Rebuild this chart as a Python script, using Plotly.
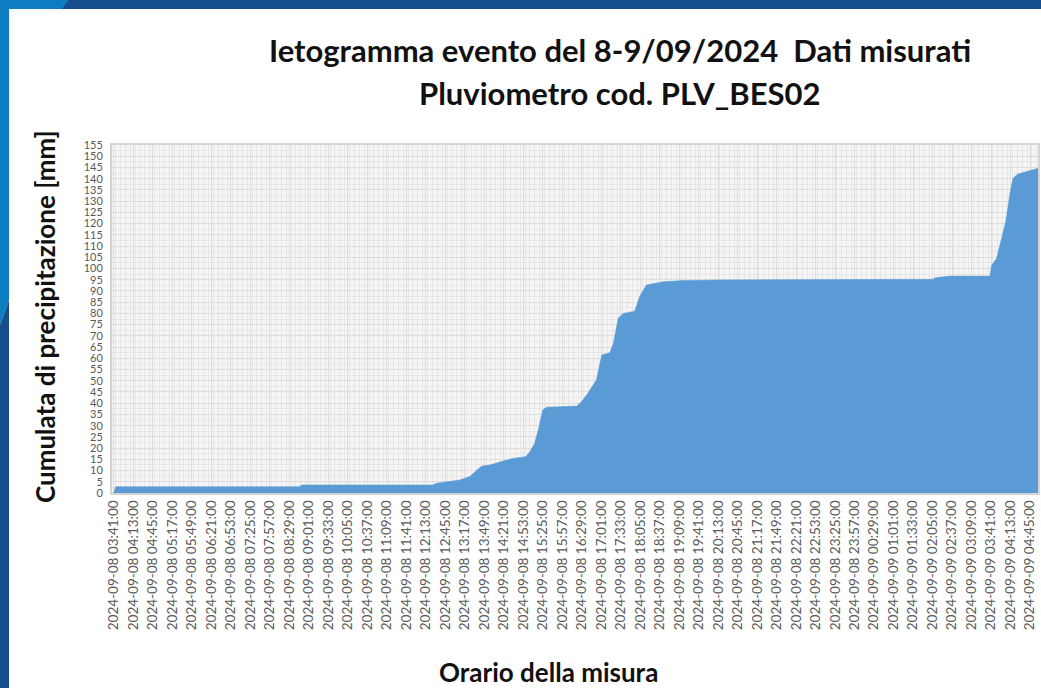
import plotly.graph_objects as go
from datetime import datetime, timedelta

# ---- data ----
TIMES = [
    "2024-09-08 03:41", "2024-09-08 03:44", "2024-09-08 08:45", "2024-09-08 08:50",
    "2024-09-08 12:25", "2024-09-08 12:30", "2024-09-08 13:09", "2024-09-08 13:25",
    "2024-09-08 13:45", "2024-09-08 13:58", "2024-09-08 14:20", "2024-09-08 14:36",
    "2024-09-08 14:57", "2024-09-08 15:04", "2024-09-08 15:12", "2024-09-08 15:19",
    "2024-09-08 15:25", "2024-09-08 15:31", "2024-09-08 16:21", "2024-09-08 16:29",
    "2024-09-08 16:39", "2024-09-08 16:53", "2024-09-08 17:02", "2024-09-08 17:15",
    "2024-09-08 17:21", "2024-09-08 17:29", "2024-09-08 17:37", "2024-09-08 17:56",
    "2024-09-08 18:04", "2024-09-08 18:15", "2024-09-08 18:43", "2024-09-08 19:15",
    "2024-09-08 20:16", "2024-09-09 01:11", "2024-09-09 02:05", "2024-09-09 02:10",
    "2024-09-09 02:33", "2024-09-09 03:39", "2024-09-09 03:42", "2024-09-09 03:50",
    "2024-09-09 03:55", "2024-09-09 04:01", "2024-09-09 04:05", "2024-09-09 04:12",
    "2024-09-09 04:17", "2024-09-09 04:25", "2024-09-09 04:39", "2024-09-09 04:58",
]
CUMULATA = [
    0.0, 2.8, 2.8, 3.6,
    3.6, 4.3, 5.8, 7.3,
    12.0, 12.5, 14.2, 15.4,
    16.2, 18.4, 22.3, 29.5,
    37.0, 38.2, 38.7, 40.7,
    44.4, 50.3, 61.5, 62.5,
    66.7, 77.8, 80.0, 81.0,
    87.4, 92.6, 94.1, 94.6,
    94.9, 95.2, 95.2, 95.9,
    96.6, 96.6, 101.5, 104.5,
    109.7, 116.4, 120.8, 133.5,
    140.2, 142.1, 143.1, 144.6,
]

TICK_START = datetime(2024, 9, 8, 3, 41)
TICK_VALS = [TICK_START + timedelta(minutes=32 * i) for i in range(48)]
TICK_TEXT = [t.strftime("%Y-%m-%d %H:%M:%S") for t in TICK_VALS]
Y_TICKS = list(range(0, 160, 5))

TITLE_LINES = ["Ietogramma evento del 8-9/09/2024  Dati misurati",
               "Pluviometro cod. PLV_BES02"]
X_TITLE = "Orario della misura"
Y_TITLE = "Cumulata di precipitazione [mm]"

FONT = "Lato, Open Sans, sans-serif"

W, H = 1041, 688
L, R, T, B = 112, 1038, 145, 493


def px(x):
    return (x - L) / (R - L)


def py(y):
    return (B - y) / (B - T)


fig = go.Figure()
fig.add_trace(go.Scatter(
    x=TIMES, y=CUMULATA, mode="lines", fill="tozeroy",
    line=dict(color="#5B9BD5", width=0.5), fillcolor="#5B9BD5",
    hoverinfo="x+y", showlegend=False,
))

shapes = []


def poly(points, color):
    d = "M " + " L ".join(f"{px(a):.5f},{py(b):.5f}" for a, b in points) + " Z"
    return dict(type="path", xref="paper", yref="paper", path=d,
                fillcolor=color, line=dict(width=0), layer="above")


shapes.append(poly([(0, -2), (W + 2, -2), (W + 2, 9), (0, 9)], "#174E8C"))
shapes.append(poly([(0, -2), (70, -2), (62, 9), (0, 9)], "#0E7DC2"))
shapes.append(poly([(0, 0), (9, 0), (9, 300), (0, 325)], "#0E7DC2"))
shapes.append(poly([(0, 325), (9, 300), (9, H + 2), (0, H + 2)], "#174E8C"))

annotations = [
    dict(text=TITLE_LINES[0], x=px(620), y=py(50), xref="paper", yref="paper",
         xanchor="center", yanchor="middle", showarrow=False,
         font=dict(family=FONT, size=31, color="#111111", weight="bold")),
    dict(text=TITLE_LINES[1], x=px(620), y=py(93), xref="paper", yref="paper",
         xanchor="center", yanchor="middle", showarrow=False,
         font=dict(family=FONT, size=31, color="#111111", weight="bold")),
    dict(text=X_TITLE, x=px(548), y=py(672), xref="paper", yref="paper",
         xanchor="center", yanchor="middle", showarrow=False,
         font=dict(family=FONT, size=26, color="#111111", weight="bold")),
    dict(text=Y_TITLE, x=px(45), y=py(317), xref="paper", yref="paper",
         xanchor="center", yanchor="middle", showarrow=False, textangle=-90,
         font=dict(family=FONT, size=26, color="#111111", weight="bold")),
]

fig.update_layout(
    width=W, height=H,
    margin=dict(l=L, r=W - R, t=T, b=H - B, pad=0),
    paper_bgcolor="white",
    plot_bgcolor="#f5f5f5",
    shapes=shapes,
    annotations=annotations,
    font=dict(family=FONT, color="#595959"),
    xaxis=dict(
        type="date", automargin=False,
        range=["2024-09-08 03:38", "2024-09-09 04:58"],
        tickmode="array", tickvals=TICK_VALS, ticktext=TICK_TEXT,
        tickangle=-90, tickfont=dict(size=13.5, color="#595959", family=FONT),
        showgrid=True, gridcolor="#dedede", gridwidth=1,
        minor=dict(dtick=8 * 60000, showgrid=True, gridcolor="#e6e6e6", gridwidth=1,
                   ticks="inside", ticklen=6, tickcolor="rgba(255,255,255,0.55)"),
        showline=True, linecolor="#d4d4d4", linewidth=2, mirror=True,
        ticks="", zeroline=False, layer="below traces",
    ),
    yaxis=dict(
        automargin=False,
        range=[0, 155], tickmode="array", tickvals=Y_TICKS,
        tickfont=dict(size=11, color="#595959", family=FONT),
        ticklabelstandoff=5,
        showgrid=True, gridcolor="#dddddd", gridwidth=1,
        minor=dict(dtick=2.5, showgrid=True, gridcolor="#e8e8e8", gridwidth=1),
        showline=True, linecolor="#d4d4d4", linewidth=2, mirror=True,
        ticks="", zeroline=False, layer="below traces",
    ),
)

fig.write_html("out.html", config={"displayModeBar": False},
               post_script="document.body.style.margin='0px';document.body.style.overflow='hidden';")
